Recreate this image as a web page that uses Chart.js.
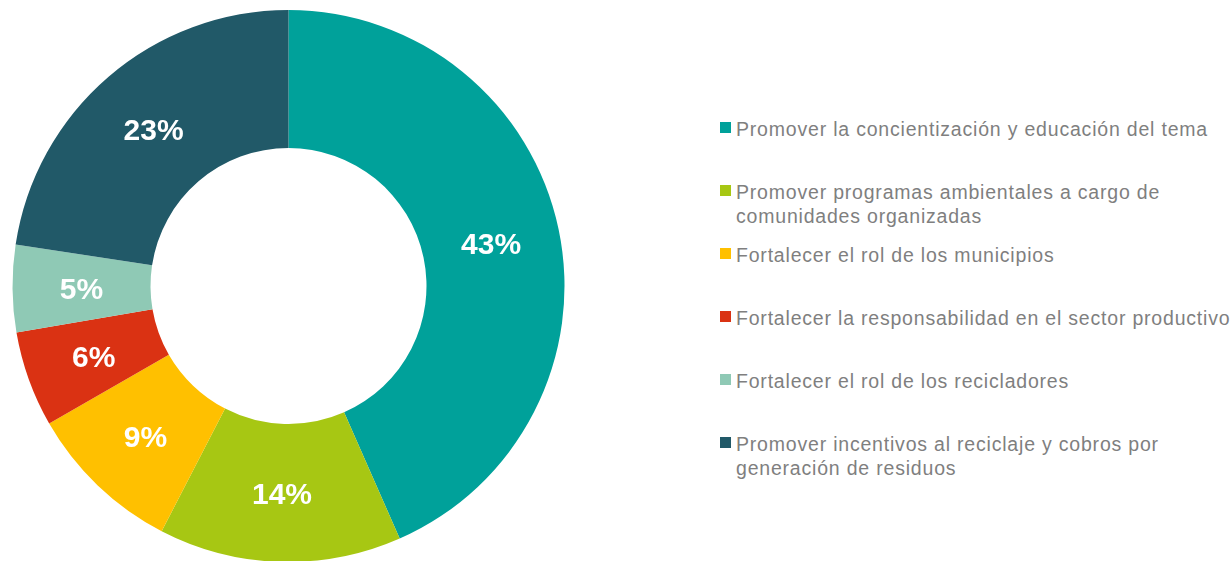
<!DOCTYPE html>
<html>
<head>
<meta charset="utf-8">
<script src="https://cdn.jsdelivr.net/npm/chart.js@4"></script>
<style>
  body { margin: 0; background: #fff; overflow: hidden; width: 1232px; height: 561px; position: relative; }
  #wrap { position: absolute; left: 0; top: 0; width: 577px; height: 572px; }
  #legend { position: absolute; left: 720px; top: 117px; font-family: "Liberation Sans", Arial, sans-serif; font-size: 19.5px; letter-spacing: 0.8px; color: #7f7f7f; }
  .item { height: 63px; position: relative; padding-left: 16px; line-height: 24px; white-space: nowrap; }
  .box { position: absolute; left: 0; top: 5px; width: 11px; height: 11px; }
</style>
</head>
<body>
<div id="wrap"><canvas id="donut"></canvas></div>
<div id="legend"></div>
<script>
const donut = document.getElementById("donut");
const legendBox = document.getElementById("legend");

// categories (wrapped the way the legend shows them)
const categories = [
  ["Promover la concientización y educación del tema"],
  ["Promover programas ambientales a cargo de", "comunidades organizadas"],
  ["Fortalecer el rol de los municipios"],
  ["Fortalecer la responsabilidad en el sector productivo"],
  ["Fortalecer el rol de los recicladores"],
  ["Promover incentivos al reciclaje y cobros por", "generación de residuos"],
];
// shares in % (labels show them rounded)
const shares = [43.4, 14.2, 9.1, 5.6, 5.1, 22.6];

//slice colors
const sliceColors = [
  "#00a19a",
  "#a7c713",
  "#ffc000",
  "#da3213",
  "#8fc9b5",
  "#215968",
];

//draw the rounded percent inside each slice
const sliceLabels = {
  id: "sliceLabels",
  afterDatasetsDraw(chart) {
    const ctx = chart.ctx;
    const meta = chart.getDatasetMeta(0);
    ctx.save();
    ctx.fillStyle = "#ffffff";
    ctx.font = "bold 30px 'Liberation Sans', Arial, sans-serif";
    ctx.textAlign = "center";
    ctx.textBaseline = "alphabetic";
    meta.data.forEach((arc, i) => {
      const p = arc.tooltipPosition();
      // baseline moved down by half the cap height so digits sit centred
      ctx.fillText(Math.round(chart.data.datasets[0].data[i]) + "%", p.x, p.y + 11);
    });
    ctx.restore();
  },
};

new Chart(donut, {
  type: "doughnut",
  plugins: [sliceLabels],
  data: {
    labels: categories,
    datasets: [
      {
        data: shares,
        backgroundColor: sliceColors,
        borderWidth: 0,
      },
    ],
  },
  options: {
    responsive: true,
    maintainAspectRatio: false,
    animation: false,
    cutout: "50%",
    layout: { padding: { top: 10, bottom: 10, left: 12, right: 12 } },
    plugins: {
      tooltip: { enabled: false },
      legend: { display: false },
    },
  },
});

// html legend on the right
categories.forEach((lines, i) => {
  const item = document.createElement("div");
  item.className = "item";
  const box = document.createElement("span");
  box.className = "box";
  box.style.background = sliceColors[i];
  item.appendChild(box);
  lines.forEach((line) => {
    const row = document.createElement("div");
    row.textContent = line;
    item.appendChild(row);
  });
  legendBox.appendChild(item);
});
</script>
</body>
</html>
